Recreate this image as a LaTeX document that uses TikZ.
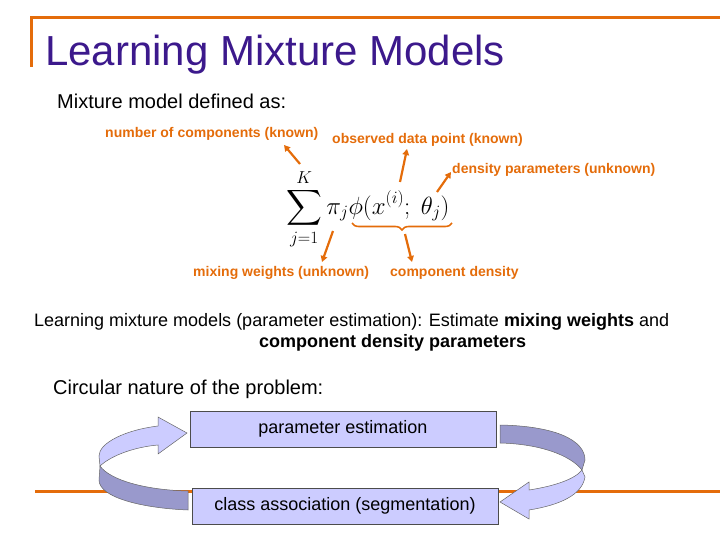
\documentclass[tikz,border=0pt]{standalone}
\usepackage{amsmath}
\usepackage{fontspec}
\setmainfont{Liberation Sans}
\usepackage{xcolor}
\usetikzlibrary{arrows.meta}
\usetikzlibrary{decorations.pathreplacing}
\definecolor{slideorange}{RGB}{228,108,10}
\definecolor{titlepurple}{RGB}{60,25,140}
\definecolor{boxfill}{RGB}{204,204,255}
\definecolor{ribbondark}{RGB}{153,153,204}
\tikzset{
  slidetext/.style={inner sep=0pt,anchor=base west},
  orangenote/.style={slidetext,text=slideorange,font=\fontsize{14}{16}\selectfont\bfseries},
  pointer/.style={draw=slideorange,line width=2.2pt,-{Triangle[length=6pt,width=6.5pt]}},
  stagebox/.style={draw=black!70,fill=boxfill,minimum width=306pt,minimum height=36pt,inner sep=0pt,font=\fontsize{18}{21}\selectfont},
  ribbonlight/.style={fill=boxfill,draw=black!60,line width=0.5pt},
  ribbonshade/.style={fill=ribbondark,draw=black!60,line width=0.5pt},
  sliderule/.style={draw=slideorange,line width=3pt}
}
\begin{document}
\begin{tikzpicture}[x=1pt,y=-1pt]
\useasboundingbox (0,0) rectangle (720,540);
% frame of the slide
\draw[sliderule] (31,18) -- (720,18);
\draw[sliderule] (31,16.5) -- (31,67);
\draw[sliderule] (35,491) -- (720,491);
\node[slidetext,text=titlepurple,font=\fontsize{42}{48}\selectfont] (ptitle) at (45,66) {Learning Mixture Models};
\node[slidetext,font=\fontsize{20}{24}\selectfont] (pdefine) at (57,109) {Mixture model defined as:};
% the formula and its notes
\node[inner sep=0pt,anchor=west] (formula) at (286,209) {\fontsize{23}{28}\selectfont$\displaystyle\sum_{j=1}^{K}\pi_j\phi(x^{(i)};\ \theta_j)$};
\node[orangenote] (lnumber) at (105,138) {number of components (known)};
\node[orangenote] (lobserved) at (332,144) {observed data point (known)};
\node[orangenote] (ldensity) at (452,174) {density parameters (unknown)};
\node[orangenote] (lmixing) at (193,276) {mixing weights (unknown)};
\node[orangenote] (lcomponent) at (390,276) {component density};
\draw[slideorange,line width=1.6pt,decorate,decoration={brace,mirror,amplitude=7pt}] (352,223) -- (452,223);
\coordinate (kfoot) at (300,164);
\coordinate (ktip) at (284,145);
\coordinate (xfoot) at (400,182);
\coordinate (xtip) at (407,149);
\coordinate (thfoot) at (437,192);
\coordinate (thtip) at (451,172);
\coordinate (pifoot) at (333,231);
\coordinate (pitip) at (322,262);
\coordinate (brfoot) at (405,234);
\coordinate (brtip) at (412,262);
\draw[pointer] (kfoot) -- (ktip);
\draw[pointer] (xfoot) -- (xtip);
\draw[pointer] (thfoot) -- (thtip);
\draw[pointer] (pifoot) -- (pitip);
\draw[pointer] (brfoot) -- (brtip);
% the task
\node[slidetext,font=\fontsize{18}{21}\selectfont] (lestimate1) at (34,326) {Learning mixture models (parameter estimation): Estimate \textbf{mixing weights} and};
\node[slidetext,font=\fontsize{18}{21}\selectfont\bfseries] (lestimate2) at (259,347) {component density parameters};
\node[slidetext,font=\fontsize{20}{24}\selectfont] (lcircular) at (53,394) {Circular nature of the problem:};
% the loop
\node[stagebox] (bparam) at (343,429) {parameter estimation};
\node[stagebox] (bclass) at (345,506) {class association (segmentation)};
\filldraw[ribbonshade] (100,466) .. controls (110,480) and (145,490) .. (188,491) -- (188,510) .. controls (140,508) and (99,497) .. (99,480) -- cycle;
\filldraw[ribbonlight] (187,433) -- (158,417) -- (158,426) .. controls (125,430) and (99,443) .. (99,456) -- (100,466) .. controls (112,455) and (135,447) .. (158,445) -- (158,454) -- cycle;
\filldraw[ribbonshade] (500,425) .. controls (555,426) and (585,440) .. (585,460) -- (582,470) .. controls (570,455) and (540,444) .. (500,443) -- cycle;
\filldraw[ribbonlight] (582,470) -- (585,477) .. controls (582,495) and (560,505) .. (529,510) -- (529,519) -- (500,502) -- (529,482) -- (529,490) .. controls (555,486) and (575,479) .. (582,470) -- cycle;
\end{tikzpicture}
\end{document}
